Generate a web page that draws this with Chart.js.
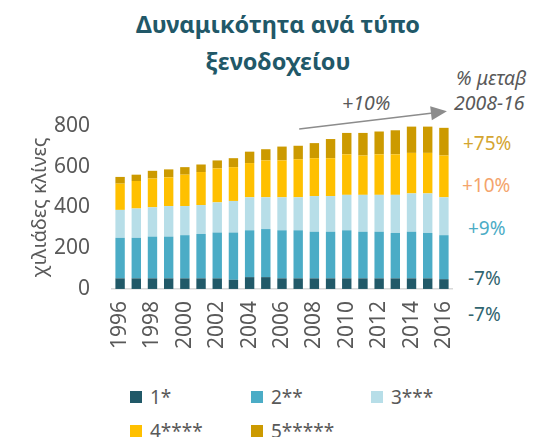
<!DOCTYPE html>
<html>
<head>
<meta charset="utf-8">
<script src="https://cdn.jsdelivr.net/npm/chart.js@4"></script>
<style>
  html, body { margin: 0; padding: 0; background: #fff; }
  body { width: 536px; height: 437px; position: relative; overflow: hidden; font-family: "Noto Sans", sans-serif; }
  #wrap { position: absolute; left: 0; top: 0; width: 536px; height: 365px; }
  .title { position: absolute; left: 128px; width: 300px; text-align: center; color: #215868; font-weight: bold; font-size: 23.5px; line-height: 37px; top: 6px; white-space: nowrap; }
  .note { position: absolute; color: #595959; font-style: italic; font-size: 19.5px; white-space: nowrap; }
  .pct { position: absolute; font-size: 19px; }
  .lg { position: absolute; font-size: 19px; color: #595959; line-height: 24px; }
  .lg i { display: inline-block; width: 12px; height: 12px; margin-right: 8px; vertical-align: 1px; }
</style>
</head>
<body>
<div class="title">Δυναμικότητα ανά τύπο<br>ξενοδοχείου</div>
<div class="note" style="left:456px; top:64px;">% μεταβ</div>
<div class="note" style="left:454px; top:89px;">2008-16</div>
<div class="note" style="left:342px; top:89px;">+10%</div>
<div class="pct" style="left:463px; top:130px; color:#D4A531;">+75%</div>
<div class="pct" style="left:462px; top:172px; color:#F4A46C;">+10%</div>
<div class="pct" style="left:468px; top:215px; color:#4BACC6;">+9%</div>
<div class="pct" style="left:468px; top:265px; color:#31656F;">-7%</div>
<div class="pct" style="left:468px; top:301px; color:#31656F;">-7%</div>
<div id="wrap"><canvas id="chart"></canvas></div>
<div id="legend"></div>
<script>
const years = ['1996','1997','1998','1999','2000','2001','2002','2003','2004','2005','2006',
  '2007','2008','2009','2010','2011','2012','2013','2014','2015','2016'];
const seriesNames = ['1*', '2**', '3***', '4****', '5*****'];
const oneStar   = [52, 52, 52, 52, 52, 52, 52, 45, 58, 58, 52, 52, 52, 52, 52, 52, 52, 52, 52, 52, 48];
const twoStar   = [199, 199, 205, 205, 212, 218, 225, 232, 230, 236, 236, 236, 229, 229, 236, 229, 229, 223, 229, 223, 216];
const threeStar = [137, 144, 144, 150, 143, 142, 148, 155, 162, 156, 162, 162, 175, 175, 174, 181, 181, 187, 188, 194, 186];
const fourStar  = [129, 135, 141, 141, 154, 162, 167, 166, 168, 181, 181, 187, 186, 186, 199, 193, 199, 199, 199, 199, 205];
const fiveStar  = [33, 31, 38, 39, 37, 37, 39, 44, 56, 55, 68, 66, 74, 94, 105, 111, 112, 118, 129, 129, 136];
const yTicks = [0, 200, 400, 600, 800];
const colors = ['#215968', '#4BACC6', '#B7DEE8', '#FFC000', '#CC9A00'];

const allSeries = [oneStar, twoStar, threeStar, fourStar, fiveStar];

// grey trend arrow above the bars
const arrowPlugin = {
  id: 'trendArrow',
  afterDatasetsDraw(chart) {
    const { ctx, scales: { x, y } } = chart;
    const x0 = x.getPixelForValue(11) + 1, y0 = y.getPixelForValue(785);
    const x1 = x.getPixelForValue(20) + 3, y1 = y.getPixelForValue(872);
    const ang = Math.atan2(y1 - y0, x1 - x0);
    ctx.save();
    ctx.strokeStyle = '#8C8C8C';
    ctx.fillStyle = '#8C8C8C';
    ctx.lineWidth = 1.5;
    ctx.beginPath();
    ctx.moveTo(x0, y0);
    ctx.lineTo(x1 - 12 * Math.cos(ang), y1 - 12 * Math.sin(ang));
    ctx.stroke();
    ctx.beginPath();
    ctx.moveTo(x1, y1);
    ctx.lineTo(x1 - 16 * Math.cos(ang) + 7 * Math.sin(ang), y1 - 16 * Math.sin(ang) - 7 * Math.cos(ang));
    ctx.lineTo(x1 - 16 * Math.cos(ang) - 7 * Math.sin(ang), y1 - 16 * Math.sin(ang) + 7 * Math.cos(ang));
    ctx.closePath();
    ctx.fill();
    ctx.restore();
  }
};

new Chart(document.getElementById('chart'), {
  type: 'bar',
  data: {
    labels: years,
    datasets: seriesNames.map((name, i) => ({
      label: name,
      data: allSeries[i],
      backgroundColor: colors[i],
      borderWidth: 0,
      barPercentage: 0.58,
      categoryPercentage: 1
    }))
  },
  options: {
    responsive: true,
    maintainAspectRatio: false,
    animation: false,
    layout: { padding: { left: 28, right: 84, top: 126, bottom: 4 } },
    plugins: { legend: { display: false }, tooltip: { enabled: false } },
    scales: {
      x: {
        stacked: true,
        grid: { display: false, drawTicks: false },
        border: { color: '#D9D9D9', width: 1.5 },
        ticks: {
          autoSkip: false, maxRotation: 90, minRotation: 90, padding: 12,
          color: '#595959', font: { family: 'Noto Sans', size: 21 },
          callback: (v, i) => (i % 2 === 0 ? years[i] : '')
        }
      },
      y: {
        stacked: true,
        min: 0, max: 800,
        afterBuildTicks: axis => { axis.ticks = yTicks.map(v => ({ value: v })); },
        afterFit: axis => { axis.width = 84; },
        grid: { display: false, drawTicks: false },
        border: { display: false },
        ticks: { padding: 22, color: '#595959', font: { family: 'Noto Sans', size: 21 } },
        title: { display: true, text: 'χιλιάδες κλίνες', color: '#595959', font: { family: 'Noto Sans', size: 20 }, padding: 0 }
      }
    }
  },
  plugins: [arrowPlugin]
});

// legend laid out in three columns like the original
const legend = document.getElementById('legend');
const legendPos = [[130, 385], [251, 385], [371, 385], [130, 419], [251, 419]];
seriesNames.forEach((name, i) => {
  const d = document.createElement('div');
  d.className = 'lg';
  d.style.left = legendPos[i][0] + 'px';
  d.style.top = legendPos[i][1] + 'px';
  d.innerHTML = '<i style="background:' + colors[i] + '"></i>' + name;
  legend.appendChild(d);
});
</script>
</body>
</html>
